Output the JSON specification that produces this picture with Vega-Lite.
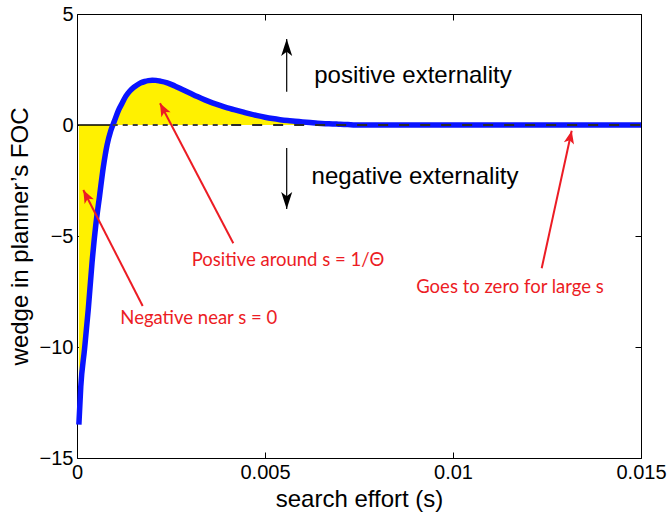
{
  "$schema": "https://vega.github.io/schema/vega-lite/v6.json",
  "width": 564,
  "height": 444,
  "autosize": {"type": "none"},
  "padding": {"left": 77, "top": 14, "right": 30, "bottom": 55},
  "background": "white",
  "config": {
    "view": {"stroke": "black", "strokeWidth": 1},
    "axis": {
      "domain": false,
      "grid": false,
      "ticks": true,
      "tickColor": "black",
      "tickWidth": 1,
      "tickSize": -6,
      "labelFont": "Liberation Sans",
      "labelFontSize": 20,
      "labelColor": "black",
      "labelPadding": 10,
      "labelOverlap": false,
      "labelFlush": false,
      "titleFont": "Liberation Sans",
      "titleFontSize": 24,
      "titleFontWeight": "normal",
      "titleColor": "black"
    }
  },
  "datasets": {
    "wedge": [
      {"s": 0.00005, "v": -13.5},
      {"s": 0.0001, "v": -11.8},
      {"s": 0.0002, "v": -10.1},
      {"s": 0.0003, "v": -8.3},
      {"s": 0.0004, "v": -6.2},
      {"s": 0.0005, "v": -4.5},
      {"s": 0.0006, "v": -3.2},
      {"s": 0.0007, "v": -1.9},
      {"s": 0.0008, "v": -0.9},
      {"s": 0.0009, "v": -0.25},
      {"s": 0.001, "v": 0.2},
      {"s": 0.0011, "v": 0.65},
      {"s": 0.0012, "v": 0.98},
      {"s": 0.0013, "v": 1.3},
      {"s": 0.0014, "v": 1.52},
      {"s": 0.0015, "v": 1.68},
      {"s": 0.0016, "v": 1.8},
      {"s": 0.0017, "v": 1.9},
      {"s": 0.0018, "v": 1.96},
      {"s": 0.0019, "v": 2.0},
      {"s": 0.002, "v": 2.02},
      {"s": 0.0021, "v": 2.01},
      {"s": 0.0022, "v": 1.98},
      {"s": 0.0024, "v": 1.9},
      {"s": 0.0026, "v": 1.76},
      {"s": 0.0028, "v": 1.6},
      {"s": 0.003, "v": 1.44},
      {"s": 0.0032, "v": 1.28},
      {"s": 0.0034, "v": 1.13},
      {"s": 0.0036, "v": 1.0},
      {"s": 0.0038, "v": 0.88},
      {"s": 0.004, "v": 0.77},
      {"s": 0.0042, "v": 0.68},
      {"s": 0.0044, "v": 0.59},
      {"s": 0.0046, "v": 0.5},
      {"s": 0.0048, "v": 0.42},
      {"s": 0.005, "v": 0.35},
      {"s": 0.0052, "v": 0.29},
      {"s": 0.0054, "v": 0.24},
      {"s": 0.0056, "v": 0.2},
      {"s": 0.0058, "v": 0.17},
      {"s": 0.006, "v": 0.14},
      {"s": 0.0062, "v": 0.11},
      {"s": 0.0064, "v": 0.08},
      {"s": 0.0066, "v": 0.06},
      {"s": 0.0068, "v": 0.05},
      {"s": 0.007, "v": 0.03},
      {"s": 0.0072, "v": 0.02},
      {"s": 0.0074, "v": 0.0},
      {"s": 0.008, "v": 0.0},
      {"s": 0.009, "v": 0.0},
      {"s": 0.01, "v": 0.0},
      {"s": 0.011, "v": 0.0},
      {"s": 0.012, "v": 0.0},
      {"s": 0.013, "v": 0.0},
      {"s": 0.014, "v": 0.0},
      {"s": 0.015, "v": 0.0}
    ]
  },
  "layer": [
    {
      "data": {"name": "wedge"},
      "mark": {"type": "area", "color": "#fff100", "interpolate": "monotone"},
      "encoding": {
        "x": {
          "field": "s", "type": "quantitative",
          "scale": {"domain": [0, 0.015], "nice": false, "zero": false},
          "axis": {"orient": "bottom", "values": [0, 0.005, 0.01, 0.015], "format": "~f", "title": "search effort (s)", "titlePadding": 5}
        },
        "y": {
          "field": "v", "type": "quantitative",
          "scale": {"domain": [-15, 5], "nice": false, "zero": false},
          "axis": {"orient": "left", "values": [-15, -10, -5, 0, 5], "title": "wedge in planner\u2019s FOC", "titlePadding": 7}
        },
        "y2": {"datum": 0}
      }
    },
    {
      "data": {"name": "wedge"},
      "mark": {"type": "point", "opacity": 0},
      "encoding": {
        "x": {"field": "s", "type": "quantitative", "axis": {"orient": "top", "values": [0, 0.005, 0.01, 0.015], "labels": false, "title": null}},
        "y": {"field": "v", "type": "quantitative", "axis": {"orient": "right", "values": [-15, -10, -5, 0, 5], "labels": false, "title": null}}
      }
    },
    {
      "data": {"values": [{"a": 0, "b": 0.00095, "y": 0}]},
      "mark": {"type": "rule", "color": "black", "strokeWidth": 1.3},
      "encoding": {
        "x": {"field": "a", "type": "quantitative", "axis": null},
        "x2": {"field": "b"},
        "y": {"field": "y", "type": "quantitative", "axis": null}
      }
    },
    {
      "data": {"name": "wedge"},
      "mark": {"type": "line", "color": "#0a14ff", "strokeWidth": 5.5, "interpolate": "monotone"},
      "encoding": {
        "x": {"field": "s", "type": "quantitative", "axis": null},
        "y": {"field": "v", "type": "quantitative", "axis": null}
      }
    },
    {
      "data": {"values": [{"a": 0.00095, "b": 0.0041, "y": 0}]},
      "mark": {"type": "rule", "color": "#404040", "strokeWidth": 2, "strokeDash": [5, 5]},
      "encoding": {
        "x": {"field": "a", "type": "quantitative", "axis": null},
        "x2": {"field": "b"},
        "y": {"field": "y", "type": "quantitative", "axis": null}
      }
    },
    {
      "data": {"values": [{"a": 0.0041, "b": 0.015, "y": 0}]},
      "mark": {"type": "rule", "color": "#2a2a2a", "strokeWidth": 2.2, "strokeDash": [10, 11]},
      "encoding": {
        "x": {"field": "a", "type": "quantitative", "axis": null},
        "x2": {"field": "b"},
        "y": {"field": "y", "type": "quantitative", "axis": null}
      }
    },
    {
      "data": {"values": [
        {"x": 0.005577, "y": 1.5, "y2": 3.87},
        {"x": 0.005577, "y": -1.04, "y2": -3.78}
      ]},
      "mark": {"type": "rule", "color": "black", "strokeWidth": 1.2},
      "encoding": {
        "x": {"field": "x", "type": "quantitative", "axis": null},
        "y": {"field": "y", "type": "quantitative", "axis": null},
        "y2": {"field": "y2"}
      }
    },
    {
      "data": {"values": [{"x": 0.005577, "y": 3.87}]},
      "mark": {"type": "point", "shape": "M0,0L-0.65,2L0,1.5L0.65,2Z", "size": 289, "filled": true, "color": "black", "opacity": 1, "angle": 0},
      "encoding": {
        "x": {"field": "x", "type": "quantitative", "axis": null},
        "y": {"field": "y", "type": "quantitative", "axis": null}
      }
    },
    {
      "data": {"values": [{"x": 0.005577, "y": -3.78}]},
      "mark": {"type": "point", "shape": "M0,0L-0.65,2L0,1.5L0.65,2Z", "size": 289, "filled": true, "color": "black", "opacity": 1, "angle": 180},
      "encoding": {
        "x": {"field": "x", "type": "quantitative", "axis": null},
        "y": {"field": "y", "type": "quantitative", "axis": null}
      }
    },
    {
      "data": {"values": [
        {"x": 0.004157, "y": -5.33, "x2": 0.002207, "y2": 0.98},
        {"x": 0.001747, "y": -8.15, "x2": 0.000168, "y2": -2.93},
        {"x": 0.012359, "y": -6.45, "x2": 0.013157, "y2": -0.26}
      ]},
      "mark": {"type": "rule", "color": "#ec1c24", "strokeWidth": 2},
      "encoding": {
        "x": {"field": "x", "type": "quantitative", "axis": null},
        "y": {"field": "y", "type": "quantitative", "axis": null},
        "x2": {"field": "x2"},
        "y2": {"field": "y2"}
      }
    },
    {
      "data": {"values": [{"x": 0.002207, "y": 0.98}]},
      "mark": {"type": "point", "shape": "M0,0L-0.8,2L0,1.5L0.8,2Z", "size": 169, "filled": true, "color": "#ec1c24", "opacity": 1, "angle": -27.5},
      "encoding": {
        "x": {"field": "x", "type": "quantitative", "axis": null},
        "y": {"field": "y", "type": "quantitative", "axis": null}
      }
    },
    {
      "data": {"values": [{"x": 0.000168, "y": -2.93}]},
      "mark": {"type": "point", "shape": "M0,0L-0.8,2L0,1.5L0.8,2Z", "size": 169, "filled": true, "color": "#ec1c24", "opacity": 1, "angle": -27.1},
      "encoding": {
        "x": {"field": "x", "type": "quantitative", "axis": null},
        "y": {"field": "y", "type": "quantitative", "axis": null}
      }
    },
    {
      "data": {"values": [{"x": 0.013157, "y": -0.26}]},
      "mark": {"type": "point", "shape": "M0,0L-0.8,2L0,1.5L0.8,2Z", "size": 169, "filled": true, "color": "#ec1c24", "opacity": 1, "angle": 12.3},
      "encoding": {
        "x": {"field": "x", "type": "quantitative", "axis": null},
        "y": {"field": "y", "type": "quantitative", "axis": null}
      }
    },
    {
      "data": {"values": [
        {"x": 0.008936, "y": 1.89, "label": "positive externality"},
        {"x": 0.008989, "y": -2.66, "label": "negative externality"}
      ]},
      "mark": {"type": "text", "font": "Liberation Sans", "fontSize": 24, "color": "black", "align": "center", "baseline": "alphabetic"},
      "encoding": {
        "x": {"field": "x", "type": "quantitative", "axis": null},
        "y": {"field": "y", "type": "quantitative", "axis": null},
        "text": {"field": "label"}
      }
    },
    {
      "data": {"values": [
        {"x": 0.005612, "y": -6.34, "label": "Positive around s = 1/\u0398"},
        {"x": 0.003237, "y": -8.96, "label": "Negative near s = 0"},
        {"x": 0.011516, "y": -7.55, "label": "Goes to zero for large s"}
      ]},
      "mark": {"type": "text", "font": "Lato", "fontSize": 18.5, "color": "#ec1c24", "align": "center", "baseline": "alphabetic"},
      "encoding": {
        "x": {"field": "x", "type": "quantitative", "axis": null},
        "y": {"field": "y", "type": "quantitative", "axis": null},
        "text": {"field": "label"}
      }
    }
  ],
  "resolve": {"axis": {"x": "independent", "y": "independent"}}
}
